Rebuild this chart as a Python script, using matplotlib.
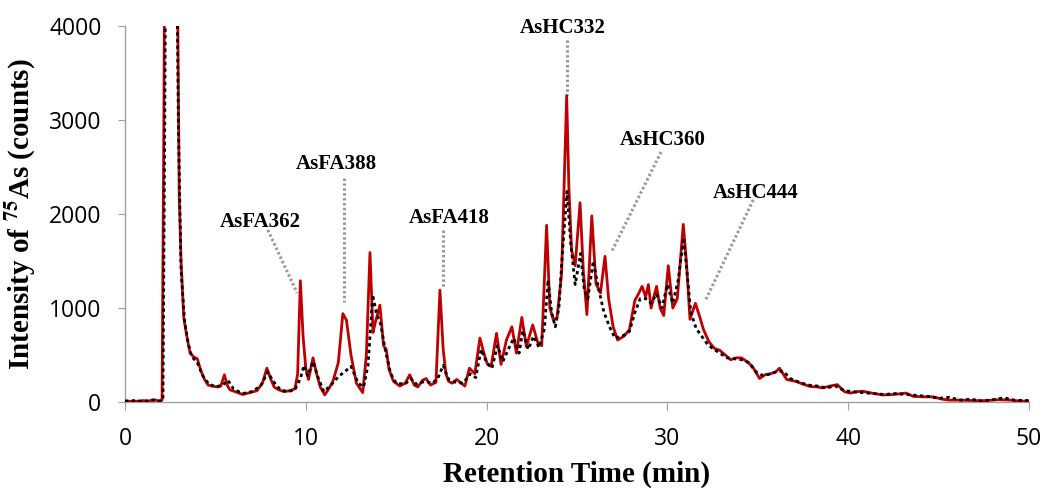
import matplotlib
matplotlib.use("Agg")
import matplotlib.pyplot as plt

# ---- data ----
red_t = [0, 0.5, 1.0, 1.3, 1.6, 1.9, 2.05, 2.15, 2.3, 2.5, 2.7, 2.9, 3.0, 3.1, 3.25, 3.4, 3.6, 3.8, 4.0, 4.2,
         4.4, 4.6, 4.8, 5.1, 5.3, 5.5, 5.65, 5.8, 6.1, 6.5, 6.9, 7.3, 7.6, 7.85, 8.05, 8.25, 8.5, 8.8, 9.1, 9.4,
         9.55, 9.7, 9.85, 10.0, 10.15, 10.4, 10.6, 10.8, 11.05, 11.3, 11.5, 11.8, 12.05, 12.25, 12.5, 12.8, 13.15,
         13.35, 13.55, 13.72, 13.85, 14.1, 14.3, 14.45, 14.6, 14.85, 15.2, 15.5, 15.75, 16.0, 16.2, 16.45, 16.65,
         16.9, 17.2, 17.42, 17.6, 17.75, 17.9, 18.1, 18.35, 18.6, 18.8, 19.05, 19.35, 19.63, 19.85, 20.05, 20.25,
         20.55, 20.8, 21.1, 21.4, 21.65, 21.95, 22.2, 22.55, 22.85, 23.05, 23.32, 23.5, 23.7, 23.9, 24.15, 24.3,
         24.43, 24.55, 24.7, 24.9, 25.17, 25.35, 25.55, 25.82, 26.05, 26.3, 26.55, 26.75, 27.0, 27.25, 27.6, 27.9,
         28.2, 28.4, 28.6, 28.8, 28.95, 29.1, 29.4, 29.6, 29.8, 30.05, 30.3, 30.55, 30.88, 31.05, 31.25, 31.55,
         31.8, 32.0, 32.3, 32.6, 32.9, 33.2, 33.5, 33.8, 34.1, 34.4, 34.7, 35.1, 35.4, 35.7, 36.0, 36.2, 36.6,
         37.1, 37.5, 37.9, 38.3, 38.6, 39.0, 39.4, 39.8, 40.1, 40.5, 40.8, 41.3, 41.9, 42.5, 43.2, 43.6, 44.2,
         44.7, 45.2, 45.6, 46.2, 47.0, 47.6, 48.3, 49.0, 49.5, 50.0]
red_y = [10, 5, 15, 10, 25, 10, 20, 3000, 9000, 12000, 8000, 4500, 2200, 1500, 900, 720, 520, 480, 460, 330,
         240, 180, 170, 160, 170, 290, 180, 130, 110, 80, 100, 120, 200, 360, 250, 160, 130, 110, 120, 140,
         300, 1290, 700, 360, 240, 470, 300, 160, 75, 150, 220, 420, 940, 870, 500, 200, 100,
         500, 1590, 740, 850, 1030, 600, 560, 350, 220, 170, 200, 290, 180, 160, 230, 250,
         180, 210, 1190, 560, 300, 220, 200, 240, 200, 170, 360, 300, 680, 520, 400, 380,
         730, 400, 660, 800, 520, 900, 590, 820, 620, 600, 1880, 1000, 870, 900, 1370, 2400,
         3260, 2300, 1620, 1450, 2120, 1400, 930, 1980, 1260, 1160, 1550, 1100, 800, 660, 700, 770,
         1080, 1150, 1230, 1120, 1250, 1000, 1230, 1000, 920, 1450, 1000, 1100, 1890, 1500, 880, 1050,
         900, 770, 640, 570, 550, 500, 450, 470, 470, 430, 380, 250, 290, 300, 320, 360, 240,
         220, 190, 165, 160, 150, 170, 185, 110, 95, 110, 115, 95, 75, 80, 95, 60, 55,
         55, 30, 20, 20, 15, 15, 25, 20, 10, 10]

black_t = [0, 0.5, 1.0, 1.5, 1.9, 2.1, 2.2, 2.4, 2.6, 2.8, 2.95, 3.1, 3.3, 3.5, 3.7, 4.0, 4.3, 4.6, 5.0, 5.4,
           5.7, 6.0, 6.5, 7.0, 7.5, 7.9, 8.2, 8.6, 9.0, 9.4, 9.7, 9.9, 10.1, 10.4, 10.7, 11.0, 11.4, 11.8, 12.2,
           12.5, 12.9, 13.2, 13.45, 13.7, 13.9, 14.15, 14.4, 14.7, 15.0, 15.5, 15.8, 16.1, 16.6, 17.0, 17.3, 17.6,
           17.9, 18.3, 18.7, 19.1, 19.4, 19.7, 20.0, 20.3, 20.6, 20.9, 21.2, 21.5, 21.8, 22.0, 22.3, 22.6, 22.9,
           23.2, 23.4, 23.6, 23.8, 24.0, 24.2, 24.45, 24.65, 24.9, 25.2, 25.4, 25.6, 25.9, 26.2, 26.5, 26.8, 27.1,
           27.5, 27.9, 28.2, 28.5, 28.8, 29.1, 29.4, 29.7, 30.0, 30.3, 30.6, 30.9, 31.1, 31.3, 31.6, 31.9, 32.2,
           32.5, 32.9, 33.3, 33.7, 34.1, 34.5, 34.9, 35.3, 35.7, 36.0, 36.4, 36.8, 37.3, 37.8, 38.3, 38.8, 39.3,
           39.8, 40.3, 40.8, 41.4, 42.0, 42.6, 43.2, 43.8, 44.4, 45.0, 45.6, 46.2, 46.8, 47.4, 48.0, 48.6, 49.2, 50.0]
black_y = [10, 15, 5, 20, 10, 20, 3000, 10000, 11000, 6000, 3000, 1400, 850, 620, 480, 420, 280, 200, 160, 180,
           230, 140, 90, 110, 170, 320, 220, 130, 110, 130, 250, 390, 280, 430, 250, 110, 180, 270, 330,
           380, 200, 160, 400, 1140, 950, 820, 550, 300, 200, 190, 250, 190, 220, 200, 250, 390,
           240, 210, 200, 300, 260, 560, 420, 360, 600, 430, 560, 680, 520, 760, 560, 700, 580,
           780, 1300, 950, 800, 1000, 1600, 2240, 1700, 1250, 1580, 1200, 1100, 1500, 1200, 950, 800, 680,
           700, 750, 950, 1100, 1100, 1050, 1150, 1000, 1250, 1050, 1300, 1750, 1350, 950, 780, 700, 620,
           570, 520, 470, 460, 450, 420, 320, 280, 300, 320, 330, 250, 210, 180, 170, 150, 170,
           120, 110, 100, 90, 80, 90, 80, 70, 60, 40, 50, 20, 30, 10, 25, 45, 20, 15]

labels = ["AsFA362", "AsFA388", "AsFA418", "AsHC332", "AsHC360", "AsHC444"]
label_xy = [(7.47, 1918), (11.71, 2532), (17.92, 1957), (24.2, 3979), (29.75, 2787), (34.89, 2226)]
leader_from = [(7.9, 1830), (12.1, 2380), (17.6, 1830), (24.45, 3850), (29.65, 2660), (34.75, 2150)]
leader_to = [(9.52, 1160), (12.1, 1060), (17.6, 1210), (24.45, 3270), (26.92, 1600), (32.08, 1070)]

x_ticks = [0, 10, 20, 30, 40, 50]
y_ticks = [0, 1000, 2000, 3000, 4000]

# ---- figure ----
plt.rcParams['mathtext.fontset'] = 'stix'
fig = plt.figure(figsize=(10.46, 4.88), dpi=100)
ax = fig.add_axes([0.1195, 0.1762, 0.8642, 0.7705])

ax.plot(red_t, red_y, color='#C00000', lw=2.0, zorder=3)
ax.plot(black_t, black_y, color='black', lw=2.0, ls=(0, (1.2, 1.2)), zorder=4)

serif = 'Liberation Serif'
sans = 'Open Sans'
for lab, (tx, ty), (x0, y0), (x1, y1) in zip(labels, label_xy, leader_from, leader_to):
    ax.plot([x0, x1], [y0, y1], color='#999999', lw=2.2, ls=(0, (0.8, 0.8)), zorder=2)
    ax.text(tx, ty, lab, ha='center', va='center', fontsize=15, fontweight='bold',
            family=serif, zorder=5)

ax.set_xlim(0, 50)
ax.set_ylim(0, 4000)
ax.set_xticks(x_ticks)
ax.set_yticks(y_ticks)
ax.set_xticklabels([str(v) for v in x_ticks], fontsize=16.5, family=sans)
ax.set_yticklabels([str(v) for v in y_ticks], fontsize=16.5, family=sans)

for s in ['top', 'right']:
    ax.spines[s].set_visible(False)
for s in ['left', 'bottom']:
    ax.spines[s].set_color('#A0A0A0')
    ax.spines[s].set_linewidth(1.0)
ax.tick_params(axis='x', direction='out', length=6, color='#A0A0A0', pad=12)
ax.tick_params(axis='y', direction='out', length=5, color='#A0A0A0', pad=12)

ax.set_xlabel('Retention Time (min)', fontsize=21, fontweight='bold', family=serif, labelpad=7)
ax.set_ylabel(r'Intensity of $^{\mathbf{75}}$As (counts)', fontsize=21, fontweight='bold',
              family=serif, labelpad=8)

fig.savefig('out.png', dpi=100)
